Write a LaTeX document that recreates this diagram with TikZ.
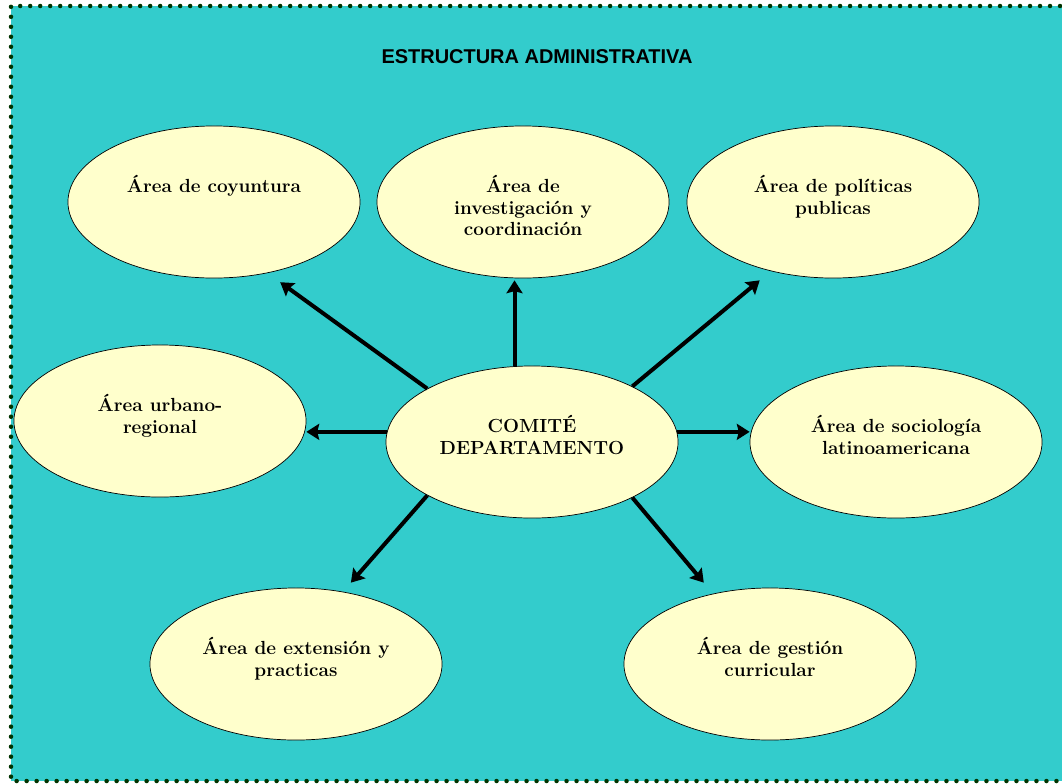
\documentclass[tikz,border=0pt]{standalone}
\usepackage{fontspec}
\newfontfamily\titlefont{Liberation Sans}
\usetikzlibrary{shapes.geometric,arrows.meta}
\definecolor{fondo}{HTML}{33CCCC}
\definecolor{crema}{HTML}{FFFFCC}
\definecolor{punto}{HTML}{003300}
\newcommand{\areatxt}[1]{\parbox[c][1.35cm][t]{5cm}{\centering #1}}
\tikzset{
	area/.style={ellipse,draw=black,line width=0.5pt,fill=crema,inner sep=0pt,
		minimum width=7.3cm,minimum height=3.8cm,font=\fontsize{13.5}{15.5}\selectfont\bfseries},
	flecha/.style={line width=0.1cm,-{Stealth[length=0.32cm,width=0.4cm,inset=0.05cm]}}
}
\begin{document}
\begin{tikzpicture}[x=0.025cm,y=-0.025cm]
	\clip (0,0) rectangle (1062,783);
	\fill[white] (0,0) rectangle (1062,783);
	\fill[fondo] (11,6) rectangle (1080,781);
	\draw[punto,line width=3.2pt,line cap=round,dash pattern=on 0pt off 7.11pt]
		(1080,6)--(11,6)--(11,781)--(1080,781);
	\node (titulo) at (537,57) {\titlefont\bfseries\fontsize{14.2}{16}\selectfont ESTRUCTURA ADMINISTRATIVA};
	% areas
	\node[area] (coyuntura) at (214,202) {\areatxt{Área de coyuntura}};
	\node[area] (investigacion) at (523,202) {\areatxt{Área de\\investigación y\\coordinación}};
	\node[area] (politicas) at (833,202) {\areatxt{Área de políticas\\publicas}};
	\node[area] (urbano) at (160,421) {\areatxt{Área urbano-\\regional}};
	\node[area] (comite) at (532,442) {\areatxt{COMITÉ\\DEPARTAMENTO}};
	\node[area] (sociologia) at (896,442) {\areatxt{Área de sociología\\latinoamericana}};
	\node[area] (extension) at (296,664) {\areatxt{Área de extensión y\\practicas}};
	\node[area] (gestion) at (770,664) {\areatxt{Área de gestión\\curricular}};
	% flechas
	\draw[flecha,shorten >=0.39cm] (comite.153)--(coyuntura.-53);
	\draw[flecha,shorten >=0.05cm] (comite.103.4)--(comite.103.4 |- investigacion.south);
	\draw[flecha,shorten >=0.36cm] (comite.29)--(politicas.-132);
	\draw[flecha] (comite.176)--(comite.176 -| urbano.east);
	\draw[flecha] (comite.4)--(comite.4 -| sociologia.west);
	\draw[flecha,shorten >=0.3cm] (comite.-153)--(extension.57.4);
	\draw[flecha,shorten >=0.36cm] (comite.-29)--(gestion.129);
\end{tikzpicture}
\end{document}
